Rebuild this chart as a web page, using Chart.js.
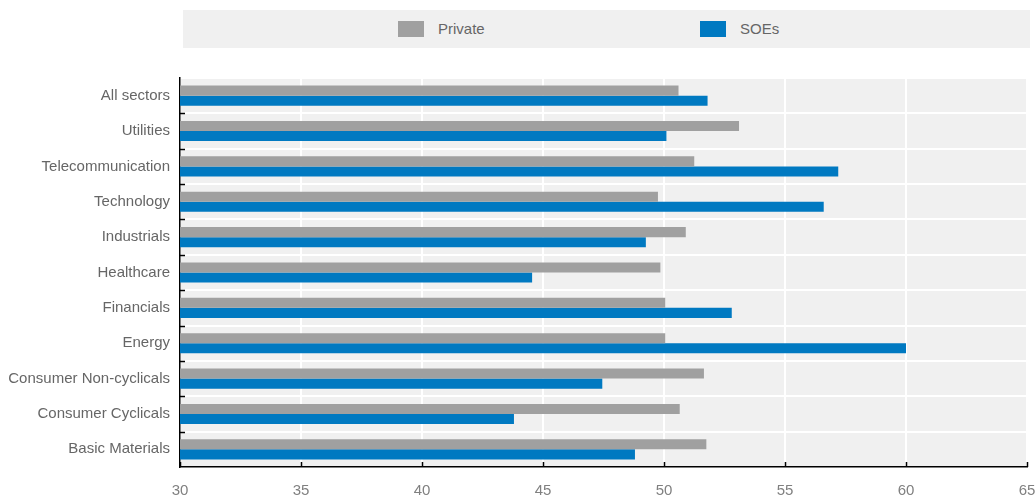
<!DOCTYPE html>
<html>
<head>
<meta charset="utf-8">
<script src="https://cdn.jsdelivr.net/npm/chart.js@4.4.1/dist/chart.umd.min.js"></script>
<style>
  html, body { margin: 0; padding: 0; background: #fff; }
  #wrap { position: relative; width: 1036px; height: 497px; }
  #legend { position: absolute; left: 183px; top: 10px; width: 847px; height: 38px; background: #f0f0f0;
    font-family: "Liberation Sans", Arial, sans-serif; font-size: 15px; color: #666; }
  .item { position: absolute; top: 11px; height: 16px; line-height: 16px; }
  .item span.box { position: absolute; left: 0; top: 0; width: 26px; height: 16px; }
  .item span.txt { position: absolute; left: 40px; top: 0; white-space: nowrap; }
</style>
</head>
<body>
<div id="wrap">
  <canvas id="chart" width="1036" height="497"></canvas>
  <div id="legend"></div>
</div>
<script>
var sectors = ["All sectors", "Utilities", "Telecommunication", "Technology", "Industrials",
  "Healthcare", "Financials", "Energy", "Consumer Non-cyclicals", "Consumer Cyclicals", "Basic Materials"];
var privateVals = [50.6, 53.1, 51.25, 49.75, 50.9, 49.85, 50.05, 50.05, 51.65, 50.65, 51.75];
var soeVals = [51.8, 50.1, 57.2, 56.6, 49.25, 44.55, 52.8, 60.0, 47.45, 43.8, 48.8];
var xTicks = [30, 35, 40, 45, 50, 55, 60, 65];

var grey = "#a0a0a0", blue = "#0079c1";

// legend (html)
var legendItems = [{ label: "Private", color: grey, left: 215 }, { label: "SOEs", color: blue, left: 517 }];
var legend = document.getElementById("legend");
legendItems.forEach(function (it) {
  var d = document.createElement("div");
  d.className = "item";
  d.style.left = it.left + "px";
  d.innerHTML = '<span class="box" style="background:' + it.color + '"></span><span class="txt">' + it.label + '</span>';
  legend.appendChild(d);
});

var plotBg = {
  id: "plotBg",
  beforeDraw: function (chart) {
    var a = chart.chartArea, ctx = chart.ctx;
    ctx.save();
    ctx.fillStyle = "#f0f0f0";
    ctx.fillRect(a.left, a.top, a.right - a.left, a.bottom - a.top);
    ctx.restore();
  },
  afterDraw: function (chart) {
    // small inward tick marks
    var a = chart.chartArea, ctx = chart.ctx, x = chart.scales.x, y = chart.scales.y;
    ctx.save();
    ctx.strokeStyle = "#000";
    ctx.lineWidth = 1.5;
    ctx.beginPath();
    for (var i = 1; i < sectors.length; i++) {
      var py = Math.round(y.getPixelForValue(i - 0.5)) + 0.5;
      ctx.moveTo(a.left, py);
      ctx.lineTo(a.left + 5, py);
    }
    xTicks.forEach(function (v) {
      var px = Math.round(x.getPixelForValue(v)) + 0.5;
      ctx.moveTo(px, a.bottom);
      ctx.lineTo(px, a.bottom - 5);
    });
    ctx.stroke();
    ctx.restore();
  }
};

new Chart(document.getElementById("chart"), {
  type: "bar",
  data: {
    labels: sectors,
    datasets: [
      { label: "Private", data: privateVals, backgroundColor: grey, categoryPercentage: 0.57, barPercentage: 1.0 },
      { label: "SOEs", data: soeVals, backgroundColor: blue, categoryPercentage: 0.57, barPercentage: 1.0 }
    ]
  },
  options: {
    indexAxis: "y",
    responsive: false,
    animation: false,
    layout: { padding: { top: 78, right: 9, left: 0, bottom: 0 } },
    plugins: { legend: { display: false }, tooltip: { enabled: false } },
    scales: {
      x: {
        min: 30, max: 65,
        afterBuildTicks: function (s) { s.ticks = xTicks.map(function (v) { return { value: v }; }); },
        afterFit: function (s) { s.height = 30; s.paddingLeft = 0; s.paddingRight = 0; },
        grid: { color: "#ffffff", lineWidth: 2, drawTicks: false },
        border: { color: "#000", width: 1.5 },
        ticks: { color: "#808080", padding: 15, font: { family: "Liberation Sans", size: 15 } }
      },
      y: {
        afterFit: function (s) { s.width = 180; s.paddingTop = 0; s.paddingBottom = 0; },
        grid: { color: "#ffffff", lineWidth: 2, drawTicks: false, offset: true },
        border: { color: "#000", width: 1.5 },
        ticks: { color: "#666666", padding: 10, font: { family: "Liberation Sans", size: 15 } }
      }
    }
  },
  plugins: [plotBg]
});
</script>
</body>
</html>
